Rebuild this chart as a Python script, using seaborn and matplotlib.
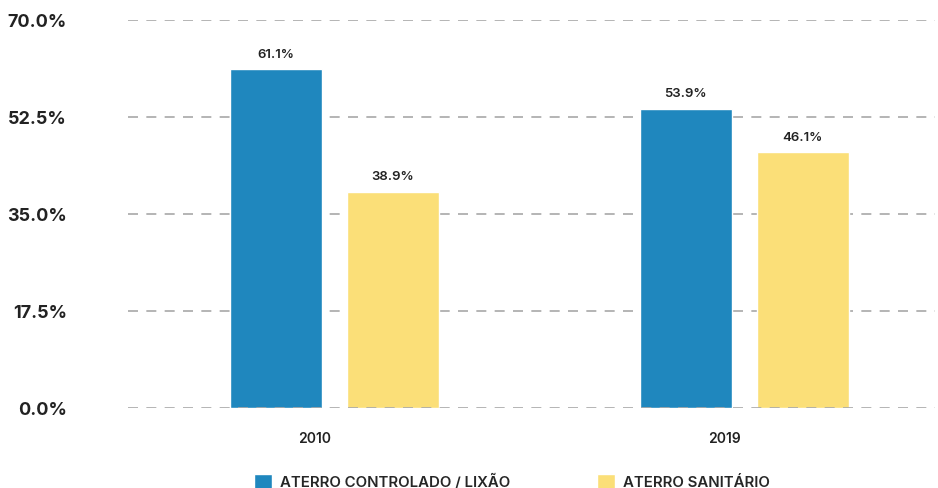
import pandas as pd
import matplotlib.pyplot as plt
import matplotlib.transforms as mtransforms
import seaborn as sns
from matplotlib.patches import Patch

years = ["2010", "2019"]
series = ["ATERRO CONTROLADO / LIXÃO", "ATERRO SANITÁRIO"]
controlado = [61.1, 53.9]
sanitario = [38.9, 46.1]
yticks = [0.0, 17.5, 35.0, 52.5, 70.0]
colors = ["#1F87BE", "#FBDF78"]


def make_chart():
    df = pd.DataFrame({
        "Ano": years * 2,
        "Destino": [series[0]] * 2 + [series[1]] * 2,
        "Valor": controlado + sanitario,
    })

    sns.set_theme(style="white")
    plt.rcParams["font.family"] = ["Inter", "DejaVu Sans"]

    fig = plt.figure(figsize=(9.38, 4.89), dpi=100)
    ax = fig.add_axes([0.1365, 0.1646, 0.8603, 0.7925])

    sns.barplot(data=df, x="Ano", y="Valor", hue="Destino", hue_order=series,
                palette=colors, width=0.571, gap=0.214, legend=False,
                saturation=1, ax=ax, zorder=2)

    for c in ax.containers:
        labels = [f"{v:.1f}%" for v in c.datavalues]
        ax.bar_label(c, labels=labels, padding=7, fontsize=9.5,
                     fontweight="semibold", color="#222222")

    ax.set_ylim(0, 70)
    ax.set_xlim(-0.504, 1.466)
    ax.set_yticks(yticks)
    ax.set_yticklabels([f"{t:.1f}%" for t in yticks], fontsize=13,
                       fontweight="bold", color="#222222")
    ax.tick_params(axis="y", length=0, pad=44)
    ax.tick_params(axis="x", length=0, pad=17, labelsize=10,
                   labelcolor="#222222")
    shift = mtransforms.ScaledTranslation(-20 / 100, 0, fig.dpi_scale_trans)
    for lab in ax.get_xticklabels():
        lab.set_fontweight("semibold")
        lab.set_transform(lab.get_transform() + shift)

    for t in yticks:
        ax.axhline(t, color="#a8a8a8", lw=1.2, ls=(0, (6, 5)),
                   zorder=3 if t == 0 else 1)

    sns.despine(ax=ax, left=True, bottom=True)
    ax.set_xlabel("")
    ax.set_ylabel("")

    handles = [Patch(facecolor=col, label=s) for col, s in zip(colors, series)]
    fig.legend(handles=handles, loc="lower center", ncol=2, frameon=False,
               bbox_to_anchor=(0.546, -0.03), handlelength=1.16,
               handleheight=1.16, handletextpad=0.55, columnspacing=5.8,
               prop={"weight": "semibold", "size": 10.8})

    fig.savefig("out.png", dpi=100)


if __name__ == "__main__":
    make_chart()
